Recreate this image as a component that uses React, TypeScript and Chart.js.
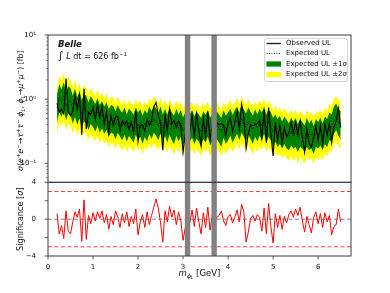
import React, { useEffect, useRef } from "react";
import { Chart, registerables } from "chart.js";
Chart.register(...registerables);

const MASS = [
  0.20,0.25,0.30,0.35,0.40,0.45,0.50,0.55,0.60,0.65,
  0.70,0.75,0.80,0.85,0.90,0.95,1.00,1.05,1.10,1.15,
  1.20,1.25,1.30,1.35,1.40,1.45,1.50,1.55,1.60,1.65,
  1.70,1.75,1.80,1.85,1.90,1.95,2.00,2.05,2.10,2.15,
  2.20,2.25,2.30,2.35,2.40,2.45,2.50,2.55,2.60,2.65,
  2.70,2.75,2.80,2.85,2.90,2.95,3.00,3.05,3.10,3.15,
  3.20,3.25,3.30,3.35,3.40,3.45,3.50,3.55,3.60,3.65,
  3.70,3.75,3.80,3.85,3.90,3.95,4.00,4.05,4.10,4.15,
  4.20,4.25,4.30,4.35,4.40,4.45,4.50,4.55,4.60,4.65,
  4.70,4.75,4.80,4.85,4.90,4.95,5.00,5.05,5.10,5.15,
  5.20,5.25,5.30,5.35,5.40,5.45,5.50,5.55,5.60,5.65,
  5.70,5.75,5.80,5.85,5.90,5.95,6.00,6.05,6.10,6.15,
  6.20,6.25,6.30,6.35,6.40,6.45,6.50,
];

const EXPECTED = [
  0.72,1.05,0.88,1.15,0.78,0.98,0.92,0.70,0.90,0.66,
  0.82,0.60,0.74,0.70,0.55,0.68,0.60,0.52,0.64,0.50,
  0.58,0.47,0.55,0.43,0.50,0.48,0.40,0.50,0.42,0.38,
  0.46,0.36,0.44,0.40,0.35,0.46,0.38,0.43,0.34,0.42,
  0.37,0.47,0.40,0.50,0.44,0.38,0.48,0.36,0.44,0.35,
  0.45,0.38,0.34,0.44,0.36,0.42,0.32,0.38,0.33,0.36,
  0.41,0.33,0.40,0.36,0.31,0.40,0.35,0.42,0.32,0.36,
  0.33,0.40,0.35,0.31,0.41,0.34,0.38,0.44,0.35,0.41,
  0.47,0.38,0.50,0.42,0.37,0.46,0.39,0.34,0.43,0.36,
  0.44,0.38,0.47,0.35,0.43,0.38,0.31,0.36,0.30,0.34,
  0.28,0.33,0.29,0.26,0.32,0.27,0.31,0.25,0.30,0.27,
  0.24,0.31,0.26,0.29,0.23,0.30,0.27,0.32,0.26,0.33,
  0.30,0.38,0.36,0.47,0.55,0.44,0.40,
];

const BAND2_LO = [
  0.30,0.44,0.37,0.48,0.33,0.41,0.39,0.29,0.38,0.28,
  0.34,0.25,0.31,0.29,0.23,0.29,0.25,0.22,0.27,0.21,
  0.24,0.20,0.23,0.18,0.21,0.20,0.17,0.21,0.18,0.16,
  0.19,0.15,0.18,0.17,0.15,0.19,0.16,0.18,0.14,0.18,
  0.16,0.20,0.17,0.21,0.18,0.16,0.20,0.15,0.18,0.15,
  0.19,0.16,0.14,0.18,0.15,0.18,0.13,0.16,0.14,0.15,
  0.17,0.14,0.17,0.15,0.13,0.17,0.15,0.18,0.13,0.15,
  0.14,0.17,0.15,0.13,0.17,0.14,0.16,0.18,0.15,0.17,
  0.20,0.16,0.21,0.18,0.16,0.19,0.16,0.14,0.18,0.15,
  0.18,0.16,0.20,0.15,0.18,0.16,0.13,0.15,0.13,0.14,
  0.12,0.14,0.12,0.11,0.13,0.11,0.13,0.10,0.13,0.11,
  0.10,0.13,0.11,0.12,0.10,0.13,0.11,0.13,0.11,0.14,
  0.13,0.16,0.15,0.20,0.23,0.18,0.17,
];

const BAND1_LO = [
  0.44,0.63,0.53,0.70,0.47,0.60,0.56,0.42,0.54,0.40,
  0.50,0.37,0.45,0.42,0.33,0.41,0.37,0.31,0.39,0.30,
  0.35,0.29,0.33,0.26,0.30,0.29,0.24,0.30,0.26,0.23,
  0.28,0.22,0.27,0.24,0.21,0.28,0.23,0.26,0.20,0.26,
  0.22,0.29,0.24,0.30,0.27,0.23,0.29,0.22,0.27,0.21,
  0.28,0.23,0.20,0.27,0.22,0.26,0.19,0.23,0.20,0.22,
  0.25,0.20,0.24,0.22,0.18,0.24,0.21,0.26,0.19,0.22,
  0.20,0.24,0.21,0.18,0.25,0.20,0.23,0.27,0.21,0.25,
  0.29,0.23,0.30,0.26,0.22,0.28,0.24,0.20,0.26,0.22,
  0.27,0.23,0.29,0.21,0.26,0.23,0.18,0.22,0.18,0.20,
  0.17,0.20,0.17,0.16,0.19,0.17,0.18,0.15,0.18,0.17,
  0.15,0.18,0.16,0.17,0.14,0.18,0.17,0.19,0.16,0.20,
  0.18,0.23,0.22,0.29,0.33,0.27,0.24,
];

const BAND1_HI = [
  1.17,1.71,1.43,1.86,1.26,1.59,1.49,1.13,1.46,1.07,
  1.33,0.97,1.21,1.13,0.90,1.10,0.97,0.84,1.04,0.81,
  0.94,0.77,0.90,0.70,0.81,0.78,0.65,0.81,0.68,0.62,
  0.75,0.58,0.71,0.65,0.57,0.75,0.62,0.70,0.55,0.68,
  0.60,0.77,0.65,0.81,0.71,0.62,0.78,0.58,0.71,0.57,
  0.73,0.62,0.55,0.71,0.58,0.68,0.52,0.62,0.54,0.58,
  0.67,0.54,0.65,0.58,0.51,0.65,0.57,0.68,0.52,0.58,
  0.54,0.65,0.57,0.51,0.67,0.55,0.62,0.71,0.57,0.67,
  0.77,0.62,0.81,0.68,0.60,0.75,0.64,0.55,0.70,0.58,
  0.71,0.62,0.77,0.57,0.70,0.62,0.51,0.58,0.49,0.55,
  0.45,0.54,0.48,0.42,0.52,0.44,0.51,0.41,0.49,0.44,
  0.39,0.51,0.42,0.48,0.38,0.49,0.44,0.52,0.42,0.54,
  0.49,0.62,0.58,0.77,0.86,0.71,0.65,
];

const BAND2_HI = [
  1.55,2.30,1.95,2.55,1.70,2.20,1.95,1.55,2.00,1.42,
  1.80,1.30,1.65,1.52,1.20,1.50,1.32,1.12,1.42,1.08,
  1.28,1.02,1.22,0.94,1.10,1.06,0.87,1.10,0.92,0.83,
  1.01,0.79,0.97,0.88,0.77,1.01,0.84,0.95,0.75,0.92,
  0.81,1.03,0.88,1.12,0.97,0.84,1.06,0.79,0.97,0.77,
  0.99,0.84,0.75,0.97,0.79,0.92,0.70,0.84,0.73,0.79,
  0.90,0.73,0.88,0.79,0.68,0.88,0.77,0.92,0.70,0.79,
  0.73,0.88,0.77,0.68,0.90,0.75,0.84,0.97,0.77,0.90,
  1.03,0.84,1.10,0.92,0.81,1.01,0.86,0.75,0.95,0.79,
  0.97,0.84,1.03,0.77,0.95,0.84,0.68,0.79,0.66,0.75,
  0.62,0.73,0.64,0.57,0.70,0.59,0.68,0.55,0.66,0.59,
  0.53,0.68,0.57,0.64,0.51,0.66,0.59,0.70,0.57,0.73,
  0.66,0.84,0.79,1.03,1.10,0.97,0.88,
];

const OBSERVED = [
  0.87,0.63,0.70,0.59,2.10,0.64,0.55,0.64,1.16,0.71,
  1.17,0.28,1.46,0.34,0.63,0.58,0.75,0.49,0.83,0.52,
  0.78,0.41,0.64,0.30,0.55,0.39,0.54,0.54,0.32,0.46,
  0.40,0.46,0.34,0.44,0.30,0.66,0.22,0.39,0.40,0.32,
  0.48,0.39,0.46,0.76,0.89,0.56,0.42,0.16,0.59,0.32,
  0.71,0.41,0.47,0.36,0.46,0.39,0.15,0.29,0.36,0.32,
  0.57,0.25,0.59,0.33,0.19,0.50,0.26,0.64,0.22,0.42,
  0.27,0.43,0.40,0.42,0.39,0.27,0.42,0.51,0.31,0.44,
  0.65,0.35,0.84,0.54,0.17,0.29,0.40,0.39,0.40,0.42,
  0.47,0.25,0.69,0.21,0.74,0.29,0.13,0.44,0.23,0.39,
  0.20,0.36,0.26,0.30,0.43,0.29,0.44,0.29,0.46,0.25,
  0.15,0.34,0.21,0.18,0.25,0.39,0.23,0.39,0.20,0.41,
  0.27,0.43,0.21,0.36,0.45,0.72,0.36,
];

const SIGNIFICANCE = [
  0.6,-1.6,-0.7,-2.1,0.9,-1.3,-1.6,-0.3,0.8,0.2,
  1.1,-2.4,2.1,-2.2,0.4,-0.5,0.7,-0.2,0.8,0.1,
  0.9,-0.4,0.5,-1.1,0.3,-0.6,0.9,0.2,-0.9,0.6,
  -0.4,0.8,-0.8,0.3,-0.5,1.1,-1.7,-0.3,0.5,-0.9,
  0.8,-0.6,0.4,1.3,2.2,1.2,-0.4,-2.5,0.9,-0.3,
  1.4,0.2,1.0,-0.6,0.8,-0.2,-2.3,-0.9,0.3,-0.4,
  1.0,-0.8,1.2,-0.3,-1.6,0.7,-0.9,1.3,-1.2,0.5,
  -0.6,0.2,0.4,0.9,-0.2,-0.7,0.3,0.5,-0.4,0.2,
  1.0,-0.3,1.6,0.8,-2.5,-1.4,0.1,0.4,-0.2,0.5,
  0.2,-1.3,1.2,-1.6,1.7,-0.8,-2.6,0.6,-0.9,0.4,
  -1.1,0.3,-0.4,0.5,0.9,0.2,1.1,0.4,1.3,-0.2,
  -1.4,0.3,-0.6,-1.5,0.2,0.8,-0.5,0.6,-0.9,0.7,
  -0.3,0.4,-1.7,-0.8,-0.6,1.1,-0.3,
];

const VETO_WINDOWS = [[3.04, 3.16], [3.63, 3.75]];
const X_TICKS = [0, 1, 2, 3, 4, 5, 6];
const LOG_MAJOR = [0.1, 1, 10];
const LOG_LABELS = ["10⁻¹", "10⁰", "10¹"];
const LOG_MINOR = [0.06, 0.07, 0.08, 0.09, 0.2, 0.3, 0.4, 0.5, 0.6, 0.7, 0.8, 0.9, 2, 3, 4, 5, 6, 7, 8, 9];
const SIG_TICKS = [-4, -2, 0, 2, 4];
const SIG_LIMITS = [-3, 3];
const LEGEND_LABELS = ["Observed UL", "Expected UL", "Expected UL ±1σ", "Expected UL ±2σ"];

const FONT = '"DejaVu Sans", sans-serif';

type Seg = { t: string; k?: "sup" | "sub" | "sub2"; it?: boolean; b?: boolean; sc?: number };

function segFont(s: Seg, size: number) {
  let sz = size * (s.sc || 1);
  if (s.k === "sup" || s.k === "sub") sz = size * 0.7;
  if (s.k === "sub2") sz = size * 0.55;
  return `${s.it ? "italic " : ""}${s.b ? "bold " : ""}${sz}px ${FONT}`;
}
function segDy(s: Seg, size: number) {
  if (s.k === "sup") return -0.4 * size;
  if (s.k === "sub") return 0.22 * size;
  if (s.k === "sub2") return 0.38 * size;
  return 0;
}
function richWidth(ctx: CanvasRenderingContext2D, segs: Seg[], size: number) {
  let w = 0;
  for (const s of segs) {
    ctx.font = segFont(s, size);
    w += ctx.measureText(s.t).width;
  }
  return w;
}
function drawRich(ctx: CanvasRenderingContext2D, segs: Seg[], x: number, y: number, size: number, align: "left" | "center") {
  const w = richWidth(ctx, segs, size);
  let cx = align === "center" ? x - w / 2 : x;
  ctx.textAlign = "left";
  ctx.textBaseline = "alphabetic";
  for (const s of segs) {
    ctx.font = segFont(s, size);
    ctx.fillText(s.t, cx, y + segDy(s, size));
    cx += ctx.measureText(s.t).width;
  }
}

const Y_TITLE: Seg[] = [
  { t: "σ", it: true }, { t: "(" }, { t: "e", it: true }, { t: "+", k: "sup" }, { t: "e", it: true }, { t: "−", k: "sup" },
  { t: "→" }, { t: "τ", it: true }, { t: "+", k: "sup" }, { t: "τ", it: true }, { t: "−", k: "sup" },
  { t: " ϕ", it: true }, { t: "L", k: "sub", it: true }, { t: ", " }, { t: "ϕ", it: true }, { t: "L", k: "sub", it: true },
  { t: "→" }, { t: "μ", it: true }, { t: "+", k: "sup" }, { t: "μ", it: true }, { t: "−", k: "sup" }, { t: ") [fb]" },
];
const Y2_TITLE: Seg[] = [{ t: "Significance [" }, { t: "σ", it: true }, { t: "]" }];
const X_TITLE: Seg[] = [{ t: "m", it: true }, { t: "ϕ", k: "sub", it: true }, { t: "L", k: "sub2", it: true }, { t: " [GeV]" }];
const LUMI: Seg[] = [{ t: "∫", sc: 1.35 }, { t: " " }, { t: "L", it: true }, { t: " d" }, { t: "t" }, { t: " = 626 fb" }, { t: "−1", k: "sup" }];

const pts = (arr: number[]) => MASS.map((m, i) => ({ x: m, y: arr[i] }));

const decor = {
  id: "decor",
  beforeDatasetsDraw(chart: any) {
    const ctx = chart.ctx as CanvasRenderingContext2D;
    const ca = chart.chartArea;
    const y2 = chart.scales.y2;
    ctx.save();
    ctx.lineWidth = 1;
    ctx.setLineDash([4, 2.5]);
    ctx.strokeStyle = "#ff3b3b";
    for (const v of SIG_LIMITS) {
      const py = y2.getPixelForValue(v);
      ctx.beginPath(); ctx.moveTo(ca.left, py); ctx.lineTo(ca.right, py); ctx.stroke();
    }
    ctx.strokeStyle = "#808080";
    const p0 = y2.getPixelForValue(0);
    ctx.beginPath(); ctx.moveTo(ca.left, p0); ctx.lineTo(ca.right, p0); ctx.stroke();
    ctx.restore();
  },
  afterDatasetsDraw(chart: any) {
    const ctx = chart.ctx as CanvasRenderingContext2D;
    const ca = chart.chartArea;
    const x = chart.scales.x, y = chart.scales.y, y2 = chart.scales.y2;
    ctx.save();
    ctx.fillStyle = "#828282";
    for (const [a, b] of VETO_WINDOWS) {
      const xa = x.getPixelForValue(a), xb = x.getPixelForValue(b);
      ctx.fillRect(xa, ca.top, xb - xa, ca.bottom - ca.top);
    }
    ctx.strokeStyle = "#3a3a3a";
    ctx.lineWidth = 1;
    ctx.strokeRect(ca.left, y.top, ca.right - ca.left, y.bottom - y.top);
    ctx.strokeRect(ca.left, y2.top, ca.right - ca.left, y2.bottom - y2.top);
    ctx.lineWidth = 0.8;
    ctx.beginPath();
    for (const v of X_TICKS) {
      const px = x.getPixelForValue(v);
      ctx.moveTo(px, ca.bottom); ctx.lineTo(px, ca.bottom + 3.5);
    }
    for (const v of SIG_TICKS) {
      const py = y2.getPixelForValue(v);
      ctx.moveTo(ca.left - 3.5, py); ctx.lineTo(ca.left, py);
    }
    for (const v of LOG_MAJOR) {
      const py = y.getPixelForValue(v);
      ctx.moveTo(ca.left - 3.5, py); ctx.lineTo(ca.left, py);
    }
    ctx.stroke();
    ctx.lineWidth = 0.6;
    ctx.beginPath();
    for (const v of LOG_MINOR) {
      const py = y.getPixelForValue(v);
      ctx.moveTo(ca.left - 2, py); ctx.lineTo(ca.left, py);
    }
    ctx.stroke();
    ctx.fillStyle = "#111";
    ctx.save();
    ctx.translate(20, (y.top + y.bottom) / 2 + 2);
    ctx.rotate(-Math.PI / 2);
    drawRich(ctx, Y_TITLE, 0, 3, 7.8, "center");
    ctx.restore();
    ctx.save();
    ctx.translate(20, (y2.top + y2.bottom) / 2);
    ctx.rotate(-Math.PI / 2);
    drawRich(ctx, Y2_TITLE, 0, 3, 8.2, "center");
    ctx.restore();
    drawRich(ctx, X_TITLE, (ca.left + ca.right) / 2, 276, 8.5, "center");
    drawRich(ctx, [{ t: "Belle", it: true, b: true }], 58, 47, 8.5, "left");
    drawRich(ctx, LUMI, 58, 59, 8, "left");
    const lx = 264, ly = 38, lw = 83, lh = 43;
    ctx.fillStyle = "rgba(255,255,255,0.85)";
    ctx.strokeStyle = "#d4d4d4";
    ctx.lineWidth = 1;
    ctx.beginPath();
    (ctx as any).roundRect(lx + 0.5, ly + 0.5, lw, lh, 2);
    ctx.fill(); ctx.stroke();
    const rows = [43.5, 53.5, 64, 74.5];
    const hx0 = 266.5, hx1 = 281;
    ctx.strokeStyle = "#222";
    ctx.lineWidth = 1.4;
    ctx.beginPath(); ctx.moveTo(hx0, rows[0]); ctx.lineTo(hx1, rows[0]); ctx.stroke();
    ctx.lineWidth = 1;
    ctx.setLineDash([1, 1.5]);
    ctx.beginPath(); ctx.moveTo(hx0, rows[1]); ctx.lineTo(hx1, rows[1]); ctx.stroke();
    ctx.setLineDash([]);
    ctx.fillStyle = "#008000";
    ctx.fillRect(hx0, rows[2] - 2.6, hx1 - hx0, 5.2);
    ctx.fillStyle = "#ffff00";
    ctx.fillRect(hx0, rows[3] - 2.6, hx1 - hx0, 5.2);
    ctx.fillStyle = "#111";
    ctx.font = `7px ${FONT}`;
    ctx.textAlign = "left";
    ctx.textBaseline = "middle";
    LEGEND_LABELS.forEach((s, i) => ctx.fillText(s, 286, rows[i]));
    ctx.restore();
  },
};

export default function App() {
  const ref = useRef<HTMLCanvasElement>(null);
  useEffect(() => {
    document.body.style.margin = "0";
    const chart = new Chart(ref.current!, {
      type: "line",
      data: {
        datasets: [
          { label: "obs", data: pts(OBSERVED), yAxisID: "y", borderColor: "#000", borderWidth: 1.1, pointRadius: 0, fill: false, order: 0 },
          { label: "exp", data: pts(EXPECTED), yAxisID: "y", borderColor: "#000", borderWidth: 0.8, borderDash: [1, 1.5], pointRadius: 0, fill: false, order: 1 },
          { label: "b1lo", data: pts(BAND1_LO), yAxisID: "y", borderWidth: 0, borderColor: "rgba(0,0,0,0)", pointRadius: 0, fill: false, order: 3 },
          { label: "b1hi", data: pts(BAND1_HI), yAxisID: "y", borderWidth: 0, borderColor: "rgba(0,0,0,0)", pointRadius: 0, fill: "-1", backgroundColor: "#008000", order: 2 },
          { label: "b2lo", data: pts(BAND2_LO), yAxisID: "y", borderWidth: 0, borderColor: "rgba(0,0,0,0)", pointRadius: 0, fill: false, order: 5 },
          { label: "b2hi", data: pts(BAND2_HI), yAxisID: "y", borderWidth: 0, borderColor: "rgba(0,0,0,0)", pointRadius: 0, fill: "-1", backgroundColor: "#ffff00", order: 4 },
          { label: "sig", data: pts(SIGNIFICANCE), yAxisID: "y2", borderColor: "#ff0000", borderWidth: 1, pointRadius: 0, fill: false, order: 0 },
        ],
      },
      options: {
        animation: false,
        responsive: false,
        events: [],
        layout: { padding: { top: 35, right: 39, left: 0, bottom: 0 } },
        plugins: { legend: { display: false }, tooltip: { enabled: false } },
        scales: {
          x: {
            type: "linear",
            min: 0,
            max: 6.73,
            border: { display: false },
            grid: { display: false },
            afterBuildTicks: (s: any) => { s.ticks = X_TICKS.map((v) => ({ value: v })); },
            afterFit: (s: any) => { s.height = 37; },
            ticks: { padding: -1, color: "#111", font: { size: 7, family: FONT }, maxRotation: 0, callback: (v: any) => String(v) },
          },
          y2: {
            type: "linear",
            position: "left",
            stack: "panels",
            stackWeight: 1,
            min: -4,
            max: 4,
            border: { display: false },
            grid: { display: false },
            afterBuildTicks: (s: any) => { s.ticks = SIG_TICKS.map((v) => ({ value: v })); },
            afterFit: (s: any) => { s.width = 48; },
            ticks: {
              padding: 4,
              color: "#111",
              font: { size: 7, family: FONT },
              callback: (v: any) => (Number(v) < 0 ? "−" + Math.abs(Number(v)) : String(v)),
            },
          },
          y: {
            type: "logarithmic",
            position: "left",
            stack: "panels",
            stackWeight: 2,
            min: 0.0507,
            max: 10,
            border: { display: false },
            grid: { display: false },
            afterBuildTicks: (s: any) => { s.ticks = LOG_MAJOR.map((v) => ({ value: v })); },
            afterFit: (s: any) => { s.width = 48; },
            ticks: {
              padding: 4,
              color: "#111",
              font: { size: 7, family: FONT },
              callback: (v: any) => { const i = LOG_MAJOR.indexOf(Number(v)); return i >= 0 ? LOG_LABELS[i] : ""; },
            },
          },
        },
      },
      plugins: [decor],
    } as any);
    return () => chart.destroy();
  }, []);
  return (
    <div style={{ position: "absolute", left: 0, top: 0, width: 390, height: 293, background: "#fff" }}>
      <canvas ref={ref} width={390} height={293} style={{ width: 390, height: 293, display: "block" }} />
    </div>
  );
}
